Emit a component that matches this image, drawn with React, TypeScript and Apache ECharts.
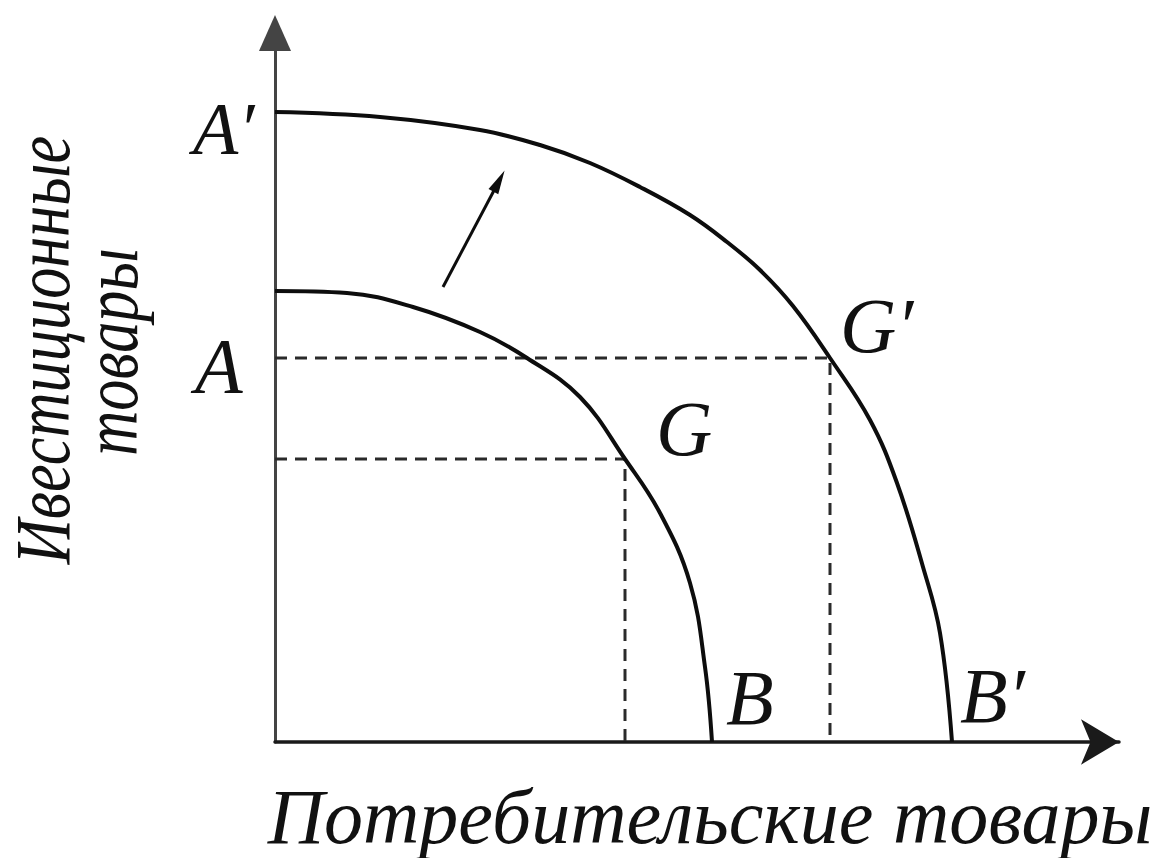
import React, { useEffect, useRef } from "react";
import * as echarts from "echarts";

// Production possibility frontiers (x = consumer goods, y = investment goods)
const innerCurve: [number, number][] = [
  [0, 451], [72, 449], [138, 435], [205, 410], [252, 384], [305, 345],
  [350, 283], [385, 229], [415, 159], [430, 75], [437, 0],
];
const outerCurve: [number, number][] = [
  [0, 630], [105, 625], [205, 612], [265, 597], [315, 579], [365, 555],
  [415, 527], [452, 500], [485, 472], [518, 436], [555, 384], [595, 322],
  [622, 259], [648, 175], [665, 109], [677, 0],
];
const pointG: [number, number] = [350, 283];
const pointGPrime: [number, number] = [555, 384];
const shiftArrow: [number, number][] = [[168, 455], [224, 561]];
const xMax = 844;
const yMax = 709;

const xTitle = "Потребительские товары";
const yTitleLines = ["Ивестиционные", "товары"];

const FAMILY = "Liberation Serif";

export default function App() {
  const ref = useRef<HTMLDivElement>(null);
  useEffect(() => {
    if (!ref.current) return;
    const chart = echarts.init(ref.current, undefined, { renderer: "svg" });
    const dashStyle = { color: "#2a2a2a", width: 3, type: [12, 8] as any };
    const dashed = (pts: [number, number][]) => ({
      type: "line",
      data: pts,
      symbol: "none",
      lineStyle: dashStyle,
      silent: true,
      z: 1,
    });
    const txt = (
      text: string,
      x: number,
      y: number,
      size: number,
      align = "left",
      rotation = 0,
      scaleX = 1
    ) => ({
      type: "text",
      x,
      y,
      rotation,
      scaleX,
      style: {
        text,
        fontFamily: FAMILY,
        fontStyle: "italic",
        fontSize: size,
        fill: "#111",
        align,
        verticalAlign: "middle",
      },
    });
    chart.setOption({
      animation: false,
      backgroundColor: "#fff",
      grid: { left: 275, right: 42, top: 33, bottom: 116 },
      xAxis: {
        type: "value",
        min: 0,
        max: xMax,
        axisLine: {
          show: true,
          symbol: ["none", "arrow"],
          symbolSize: [34, 38],
          lineStyle: { color: "#1a1a1a", width: 3.5 },
        },
        axisTick: { show: false },
        axisLabel: { show: false },
        splitLine: { show: false },
      },
      yAxis: {
        type: "value",
        min: 0,
        max: yMax,
        axisLine: {
          show: true,
          symbol: ["none", "triangle"],
          symbolSize: [32, 36],
          lineStyle: { color: "#444", width: 3 },
        },
        axisTick: { show: false },
        axisLabel: { show: false },
        splitLine: { show: false },
      },
      series: [
        dashed([[0, pointG[1]], pointG, [pointG[0], 0]]),
        dashed([[0, pointGPrime[1]], pointGPrime, [pointGPrime[0], 0]]),
        {
          type: "line",
          data: innerCurve,
          smooth: 0.4,
          symbol: "none",
          lineStyle: { color: "#0d0d0d", width: 4 },
          z: 3,
        },
        {
          type: "line",
          data: outerCurve,
          smooth: 0.4,
          symbol: "none",
          lineStyle: { color: "#0d0d0d", width: 4 },
          z: 3,
          markLine: {
            silent: true,
            symbol: ["none", "triangle"],
            symbolSize: [11, 24],
            label: { show: false },
            lineStyle: { color: "#0d0d0d", width: 3, type: "solid" },
            data: [[{ coord: shiftArrow[0] }, { coord: shiftArrow[1] }]],
          },
        },
      ],
      graphic: [
        txt("A′", 193, 129, 74),
        txt("A", 195, 365, 78),
        txt("G", 656, 428, 78),
        txt("G′", 840, 325, 78),
        txt("B", 726, 697, 78),
        txt("B′", 960, 695, 78),
        txt(xTitle, 710, 816, 78, "center"),
        txt(yTitleLines[0], 42, 350, 78, "center", Math.PI / 2, 0.8),
        txt(yTitleLines[1], 110, 352, 78, "center", Math.PI / 2, 0.8),
      ],
    });
    return () => chart.dispose();
  }, []);
  return (
    <div
      ref={ref}
      style={{ position: "fixed", left: 0, top: 0, width: 1161, height: 858 }}
    />
  );
}
